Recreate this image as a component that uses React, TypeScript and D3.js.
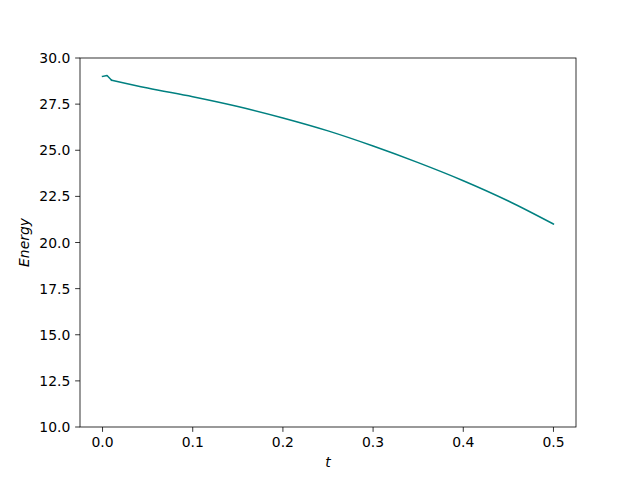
import React from "react";
import * as d3 from "d3";

const tValues = [0, 0.005, 0.01, 0.05, 0.1, 0.15, 0.2, 0.25, 0.3, 0.35, 0.4, 0.45, 0.5];
const energyValues = [29.0, 29.05, 28.8, 28.37, 27.9, 27.37, 26.75, 26.05, 25.23, 24.33, 23.35, 22.25, 21.0];
const xTicks = [0.0, 0.1, 0.2, 0.3, 0.4, 0.5];
const yTicks = [10, 12.5, 15, 17.5, 20, 22.5, 25, 27.5, 30];

export default function App() {
  const W = 640, H = 480;
  const left = 80, right = 576, top = 58, bottom = 427;
  const x = d3.scaleLinear().domain([-0.025, 0.525]).range([left, right]);
  const y = d3.scaleLinear().domain([10, 30]).range([bottom, top]);
  const pts: [number, number][] = tValues.map((t, i) => [t, energyValues[i]]);
  const head = d3.line<[number, number]>().x(d => x(d[0])).y(d => y(d[1]))(pts.slice(0, 3)) || "";
  const tail = d3.line<[number, number]>().x(d => x(d[0])).y(d => y(d[1])).curve(d3.curveMonotoneX)(pts.slice(2)) || "";
  const font = "DejaVu Sans, sans-serif";
  const fs = 13.9;
  const tl = 4.86;
  return (
    <svg width={W} height={H} style={{ position: "absolute", left: 0, top: 0 }} fontFamily={font}>
      <rect x={0} y={0} width={W} height={H} fill="#fff" />
      <path d={head} fill="none" stroke="#008080" strokeWidth={1.5} strokeLinejoin="round" strokeLinecap="square" />
      <path d={tail} fill="none" stroke="#008080" strokeWidth={1.5} strokeLinejoin="round" strokeLinecap="square" />
      <rect x={left} y={top} width={right - left} height={bottom - top} fill="none" stroke="#000" strokeWidth={0.8} />
      {xTicks.map(t => (
        <g key={"x" + t}>
          <line x1={x(t)} x2={x(t)} y1={bottom} y2={bottom + tl} stroke="#000" strokeWidth={0.8} />
          <text x={x(t)} y={bottom + tl + 4.86 + 10.5} fontSize={fs} textAnchor="middle">{t.toFixed(1)}</text>
        </g>
      ))}
      {yTicks.map(v => (
        <g key={"y" + v}>
          <line x1={left - tl} x2={left} y1={y(v)} y2={y(v)} stroke="#000" strokeWidth={0.8} />
          <text x={left - tl - 4.86} y={y(v)} dy="0.36em" fontSize={fs} textAnchor="end">{v.toFixed(1)}</text>
        </g>
      ))}
      <text x={(left + right) / 2} y={467} fontSize={fs} fontStyle="italic" textAnchor="middle">t</text>
      <text transform={`translate(${29},${(top + bottom) / 2}) rotate(-90)`} fontSize={fs} fontStyle="italic" textAnchor="middle">Energy</text>
    </svg>
  );
}
